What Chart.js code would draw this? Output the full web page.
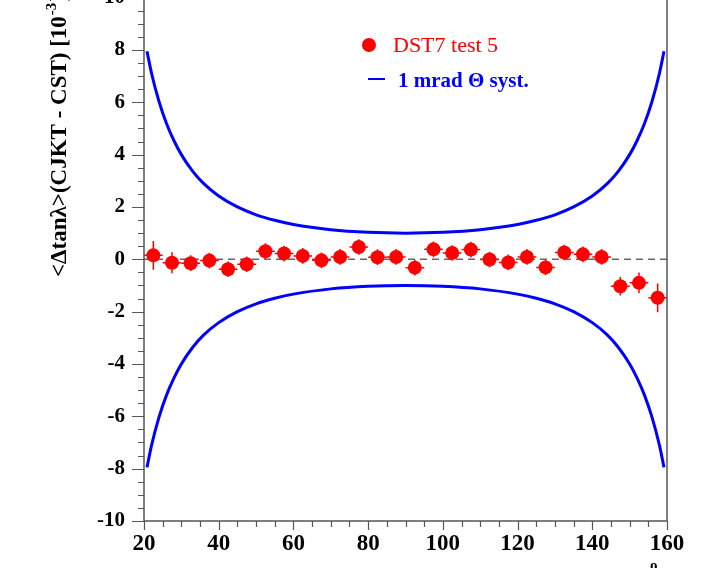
<!DOCTYPE html>
<html>
<head>
<meta charset="utf-8">
<script src="https://cdn.jsdelivr.net/npm/chart.js@4.4.0/dist/chart.umd.min.js"></script>
<style>
html, body { margin: 0; padding: 0; background: #fff; }
#wrap { position: relative; width: 712px; height: 568px; overflow: hidden; }
#myChart { position: absolute; left: 0; top: -34px; }
</style>
</head>
<body>
<div id="wrap"><canvas id="myChart" width="712" height="614"></canvas></div>
<script>
// bin centres (theta, deg) and mean difference [1e-3]
var thetaBins = [22.5, 27.5, 32.5, 37.5, 42.5, 47.5, 52.5, 57.5, 62.5, 67.5,
                 72.5, 77.5, 82.5, 87.5, 92.5, 97.5, 102.5, 107.5, 112.5, 117.5,
                 122.5, 127.5, 132.5, 137.5, 142.5, 147.5, 152.5, 157.5];
var meanDiff = [0.15, -0.13, -0.15, -0.05, -0.38, -0.19, 0.31, 0.22, 0.13, -0.04,
                0.09, 0.47, 0.08, 0.09, -0.32, 0.38, 0.24, 0.37, -0.01, -0.12,
                0.09, -0.31, 0.26, 0.19, 0.09, -1.03, -0.90, -1.47];
var errY = [0.55, 0.4, 0.3, 0.3, 0.3, 0.3, 0.3, 0.3, 0.3, 0.3,
            0.3, 0.3, 0.3, 0.3, 0.3, 0.3, 0.3, 0.3, 0.3, 0.3,
            0.3, 0.3, 0.3, 0.3, 0.3, 0.35, 0.4, 0.55];
var binHalf = 2.5;

// 1 mrad systematic band
var systTheta = [20.8, 22, 24, 26, 28, 30, 33, 36, 40, 45, 50, 55, 60, 70, 80, 90,
                 100, 110, 120, 125, 130, 135, 140, 144, 147, 150, 152, 154, 156, 158, 159.2];
var systUpper = [7.95, 7.12, 6.04, 5.20, 4.54, 4.00, 3.37, 2.89, 2.42, 2.00, 1.70, 1.49, 1.33, 1.13, 1.03, 1.00,
                 1.03, 1.13, 1.33, 1.49, 1.70, 2.00, 2.42, 2.89, 3.37, 4.00, 4.54, 5.20, 6.04, 7.12, 7.95];
var systLower = [-7.95, -7.12, -6.04, -5.20, -4.54, -4.00, -3.37, -2.89, -2.42, -2.00, -1.70, -1.49, -1.33, -1.13, -1.03, -1.00,
                 -1.03, -1.13, -1.33, -1.49, -1.70, -2.00, -2.42, -2.89, -3.37, -4.00, -4.54, -5.20, -6.04, -7.12, -7.95];

var SHIFT = 34; // canvas sits 34px above the page top
var serif = '"Liberation Serif", "Times New Roman", serif';

var decorations = {
    id: 'decorations',
    beforeDatasetsDraw: function(chart) {
        var ctx = chart.ctx, a = chart.chartArea, y = chart.scales.y;
        var y0 = y.getPixelForValue(0);
        ctx.save();
        ctx.strokeStyle = '#666';
        ctx.lineWidth = 1.5;
        ctx.setLineDash([7, 5]);
        ctx.beginPath();
        ctx.moveTo(a.left, y0);
        ctx.lineTo(a.right, y0);
        ctx.stroke();
        ctx.restore();
    },
    afterDatasetsDraw: function(chart) {
        var ctx = chart.ctx, x = chart.scales.x, y = chart.scales.y;
        ctx.save();
        ctx.strokeStyle = '#ff0000';
        ctx.lineWidth = 1.5;
        for (var i = 0; i < thetaBins.length; i++) {
            var px = x.getPixelForValue(thetaBins[i]);
            var py = y.getPixelForValue(meanDiff[i]);
            ctx.beginPath();
            ctx.moveTo(x.getPixelForValue(thetaBins[i] - binHalf), py);
            ctx.lineTo(x.getPixelForValue(thetaBins[i] + binHalf), py);
            ctx.moveTo(px, y.getPixelForValue(meanDiff[i] - errY[i]));
            ctx.lineTo(px, y.getPixelForValue(meanDiff[i] + errY[i]));
            ctx.stroke();
        }
        ctx.restore();
    },
    afterDraw: function(chart) {
        var ctx = chart.ctx, a = chart.chartArea, x = chart.scales.x, y = chart.scales.y;
        ctx.save();
        // frame
        ctx.strokeStyle = '#555';
        ctx.lineWidth = 1.5;
        ctx.strokeRect(a.left, a.top, a.right - a.left, a.bottom - a.top);
        // ticks
        ctx.lineWidth = 1.2;
        ctx.beginPath();
        for (var k = -20; k <= 20; k++) {
            var py = Math.round(y.getPixelForValue(k / 2)) + 0.5;
            var len = (k % 4 === 0) ? 12 : 6;
            ctx.moveTo(a.left - len, py);
            ctx.lineTo(a.left, py);
        }
        for (var t = 20; t <= 160; t += 5) {
            var px = Math.round(x.getPixelForValue(t)) + 0.5;
            var l2 = (t % 20 === 0) ? 9 : 6;
            ctx.moveTo(px, a.bottom);
            ctx.lineTo(px, a.bottom + l2);
        }
        ctx.stroke();

        // legend
        ctx.fillStyle = '#ff0000';
        ctx.beginPath();
        ctx.arc(369, 45 + SHIFT, 7, 0, Math.PI * 2);
        ctx.fill();
        ctx.font = '22px ' + serif;
        ctx.textBaseline = 'alphabetic';
        ctx.textAlign = 'left';
        ctx.fillText('DST7 test 5', 393, 52 + SHIFT);
        ctx.strokeStyle = '#0000ff';
        ctx.lineWidth = 2;
        ctx.beginPath();
        ctx.moveTo(368, 79 + SHIFT);
        ctx.lineTo(385, 79 + SHIFT);
        ctx.stroke();
        ctx.fillStyle = '#0000ff';
        ctx.font = 'bold 21px ' + serif;
        ctx.fillText('1 mrad \u0398 syst.', 398, 87 + SHIFT);

        // y title
        ctx.fillStyle = '#000';
        ctx.save();
        ctx.translate(66, 277 + SHIFT);
        ctx.rotate(-Math.PI / 2);
        ctx.font = 'bold 23px ' + serif;
        var main = '<\u0394tan\u03bb>(CJKT - CST) [10';
        ctx.fillText(main, 0, 0);
        var w = ctx.measureText(main).width;
        ctx.font = 'bold 15px ' + serif;
        ctx.fillText('-3', w + 1, -10);
        var w2 = ctx.measureText('-3').width;
        ctx.font = 'bold 23px ' + serif;
        ctx.fillText(']', w + w2 + 2, 0);
        ctx.restore();

        // x title (mostly below the page)
        ctx.font = 'bold 24px ' + serif;
        ctx.textAlign = 'right';
        ctx.fillText('\u03b8', 650, 592 + SHIFT);
        ctx.font = 'bold 15px ' + serif;
        ctx.textAlign = 'left';
        ctx.fillText('o', 650, 570 + SHIFT);
        ctx.restore();
    }
};

var ctx = document.getElementById('myChart');
var chart = new Chart(ctx, {
    type: 'scatter',
    data: {
        datasets: [
            {
                type: 'line',
                data: systTheta.map(function(t, i) { return {x: t, y: systUpper[i]}; }),
                borderColor: '#0000ff',
                borderWidth: 3,
                pointRadius: 0,
                cubicInterpolationMode: 'monotone',
                fill: false
            },
            {
                type: 'line',
                data: systTheta.map(function(t, i) { return {x: t, y: systLower[i]}; }),
                borderColor: '#0000ff',
                borderWidth: 3,
                pointRadius: 0,
                cubicInterpolationMode: 'monotone',
                fill: false
            },
            {
                data: thetaBins.map(function(t, i) { return {x: t, y: meanDiff[i]}; }),
                pointRadius: 7,
                pointHoverRadius: 7,
                backgroundColor: '#ff0000',
                borderWidth: 0
            }
        ]
    },
    options: {
        responsive: false,
        animation: false,
        devicePixelRatio: 1,
        layout: { padding: { left: 0, right: 45, top: 3, bottom: 0 } },
        plugins: { legend: { display: false }, tooltip: { enabled: false } },
        scales: {
            x: {
                type: 'linear',
                min: 20,
                max: 160,
                afterFit: function(s) { s.height = 59; },
                grid: { display: false, drawTicks: false },
                border: { display: false },
                ticks: { stepSize: 20, padding: 9, color: '#000', font: { family: serif, size: 23, weight: 'bold' } }
            },
            y: {
                min: -10,
                max: 10,
                afterFit: function(s) { s.width = 144; },
                grid: { display: false, drawTicks: false },
                border: { display: false },
                ticks: { stepSize: 2, padding: 19, color: '#000', font: { family: serif, size: 21, weight: 'bold' } }
            }
        }
    },
    plugins: [decorations]
});
</script>
</body>
</html>
